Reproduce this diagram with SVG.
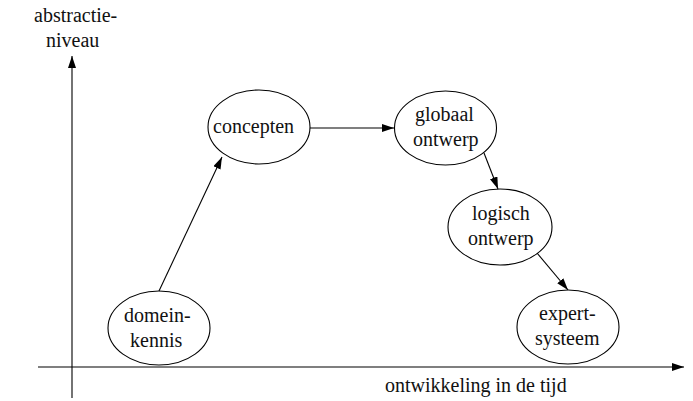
<svg xmlns="http://www.w3.org/2000/svg" width="693" height="401" viewBox="0 0 693 401" font-family="'Liberation Serif', 'Times New Roman', serif">
<style>
text{font-family:'Liberation Serif','Times New Roman',serif !important;font-size:20px;fill:#111}
.n{fill:none;stroke:#000;stroke-width:1.1}
.c{stroke:#000;stroke-width:1.1;fill:none;marker-end:url(#a)}
</style>
<defs>
<marker id="a" viewBox="0 0 12 8" refX="12" refY="4" markerWidth="12" markerHeight="8" markerUnits="userSpaceOnUse" orient="auto">
<path d="M0,0 L12,4 L0,8 Z" fill="#000"/>
</marker>
</defs>
<line class="c" x1="72" y1="398" x2="72" y2="56"/>
<line class="c" x1="38" y1="367" x2="684" y2="367"/>
<text x="34" y="22">abstractie-</text>
<text x="46" y="47">niveau</text>
<text x="385" y="392">ontwikkeling in de tijd</text>
<g id="domeinkennis">
<ellipse class="n" cx="159" cy="328" rx="51" ry="37"/>
<text x="124" y="322">domein-</text>
<text x="130" y="347">kennis</text>
</g>
<g id="concepten">
<ellipse class="n" cx="259" cy="127" rx="51" ry="37"/>
<text x="213" y="133">concepten</text>
</g>
<g id="globaal">
<ellipse class="n" cx="445.5" cy="128" rx="51" ry="37"/>
<text x="415" y="121">globaal</text>
<text x="413" y="146">ontwerp</text>
</g>
<g id="logisch">
<ellipse class="n" cx="500" cy="227" rx="52" ry="38"/>
<text x="472" y="220">logisch</text>
<text x="468" y="245">ontwerp</text>
</g>
<g id="expertsysteem">
<ellipse class="n" cx="568" cy="327" rx="51" ry="37"/>
<text x="539" y="320">expert-</text>
<text x="535" y="345">systeem</text>
</g>
<g id="connectors">
<line class="c" x1="159" y1="291" x2="222" y2="157"/>
<line class="c" x1="310" y1="128" x2="394" y2="128"/>
<line class="c" x1="484" y1="153" x2="498" y2="189"/>
<line class="c" x1="537" y1="253" x2="568" y2="290"/>
</g>
</svg>
